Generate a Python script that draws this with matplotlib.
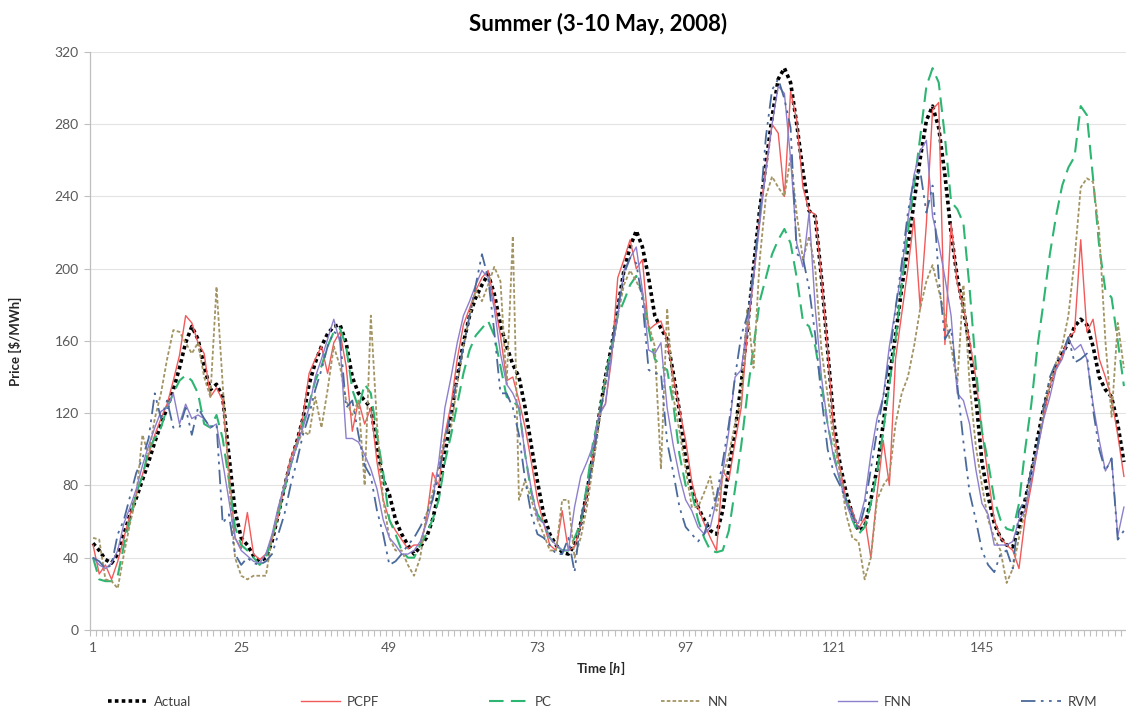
import numpy as np
import matplotlib
matplotlib.use("Agg")
import matplotlib.pyplot as plt

plt.rcParams['font.family'] = ['Lato', 'DejaVu Sans']
plt.rcParams['mathtext.fontset'] = 'custom'
plt.rcParams['mathtext.it'] = 'Lato:italic:bold'
plt.rcParams['mathtext.rm'] = 'Lato:bold'

# ----------------------------
# Hourly prices, 3-10 May 2008 ($/MWh)
# ----------------------------

hours = np.arange(1, 169)

actual = [48, 44, 39, 37, 42, 53, 64, 73, 83, 93,
          104, 114, 123, 133, 145, 159, 168, 161, 146, 133,
          136, 129, 97, 66, 51, 47, 41, 38, 40, 49,
          64, 79, 93, 104, 117, 136, 148, 157, 164, 168,
          169, 159, 140, 131, 127, 123, 102, 83, 75, 61,
          53, 47, 42, 46, 51, 61, 76, 97, 119, 140,
          159, 174, 184, 191, 197, 186, 169, 157, 147, 140,
          123, 102, 82, 64, 53, 47, 43, 42, 47, 59,
          76, 97, 119, 140, 157, 178, 199, 212, 221, 212,
          195, 174, 167, 161, 142, 121, 95, 78, 68, 61,
          55, 53, 66, 89, 110, 136, 167, 201, 233, 258,
          284, 305, 311, 303, 280, 254, 232, 229, 195, 155,
          115, 92, 76, 64, 55, 57, 72, 89, 114, 140,
          163, 189, 212, 237, 261, 282, 290, 278, 252, 220,
          195, 178, 157, 129, 93, 74, 59, 51, 47, 46,
          57, 72, 87, 106, 123, 136, 146, 153, 159, 168,
          172, 169, 157, 140, 133, 129, 114, 93]

pcpf = [47, 31, 36, 28, 38, 51, 64, 75, 86, 97,
        108, 117, 125, 138, 152, 174, 170, 159, 153, 129,
        134, 127, 89, 51, 45, 65, 42, 39, 42, 50,
        63, 80, 95, 104, 118, 142, 150, 157, 142, 159,
        165, 146, 110, 127, 114, 123, 93, 72, 61, 55,
        50, 45, 47, 47, 61, 87, 80, 108, 125, 150,
        169, 178, 188, 195, 199, 182, 163, 138, 140, 127,
        112, 93, 72, 59, 47, 44, 66, 44, 46, 58,
        75, 97, 120, 125, 150, 195, 205, 216, 200, 205,
        166, 169, 171, 160, 140, 122, 105, 82, 68, 59,
        51, 44, 88, 83, 104, 123, 165, 195, 229, 256,
        280, 275, 240, 298, 282, 245, 232, 230, 195, 155,
        110, 90, 72, 66, 56, 62, 40, 75, 105, 80,
        150, 175, 200, 228, 178, 225, 288, 292, 158, 225,
        192, 178, 160, 140, 110, 85, 61, 51, 47, 44,
        34, 62, 80, 100, 118, 135, 145, 152, 162, 165,
        216, 165, 172, 150, 140, 128, 108, 85]

pc = [40, 28, 27, 27, 30, 47, 61, 76, 85, 100,
      106, 112, 123, 131, 138, 141, 138, 131, 114, 112,
      119, 106, 83, 57, 47, 44, 40, 36, 40, 51,
      64, 78, 91, 102, 114, 125, 138, 146, 157, 165,
      167, 157, 133, 123, 136, 131, 108, 87, 61, 53,
      44, 40, 40, 47, 53, 61, 72, 93, 108, 125,
      142, 155, 163, 167, 171, 163, 146, 129, 127, 123,
      97, 76, 64, 59, 51, 47, 44, 44, 51, 59,
      80, 104, 119, 140, 157, 174, 182, 191, 196, 186,
      167, 150, 146, 144, 125, 97, 80, 76, 61, 51,
      44, 43, 44, 55, 78, 102, 131, 157, 182, 195,
      208, 216, 222, 214, 195, 171, 168, 157, 136, 114,
      97, 83, 72, 61, 53, 57, 70, 87, 110, 136,
      161, 191, 220, 246, 273, 301, 311, 303, 273, 237,
      233, 225, 189, 146, 110, 93, 72, 61, 56, 55,
      70, 100, 125, 157, 182, 208, 229, 246, 256, 262,
      290, 285, 250, 212, 188, 184, 160, 135]

nn = [51, 50, 28, 27, 23, 42, 59, 74, 108, 97,
      117, 131, 150, 166, 165, 159, 153, 159, 140, 129,
      190, 136, 83, 40, 30, 28, 30, 30, 30, 51,
      66, 80, 93, 102, 110, 108, 129, 112, 133, 157,
      146, 127, 119, 127, 80, 174, 114, 72, 51, 44,
      44, 36, 30, 40, 64, 76, 91, 108, 112, 136,
      157, 174, 188, 182, 191, 201, 193, 136, 218, 72,
      83, 72, 61, 53, 44, 44, 72, 72, 40, 51,
      68, 91, 114, 140, 153, 174, 191, 199, 193, 186,
      169, 157, 89, 178, 129, 110, 89, 68, 68, 76,
      85, 66, 85, 97, 114, 128, 178, 145, 205, 240,
      251, 245, 240, 262, 230, 205, 218, 200, 155, 130,
      104, 87, 64, 51, 49, 28, 40, 72, 80, 85,
      114, 131, 140, 157, 178, 193, 202, 188, 174, 157,
      136, 191, 136, 102, 80, 61, 51, 44, 26, 34,
      51, 66, 89, 100, 123, 136, 148, 157, 174, 205,
      245, 250, 248, 220, 160, 118, 170, 145]

fnn = [40, 36, 34, 37, 44, 59, 68, 78, 91, 102,
       112, 121, 123, 131, 114, 125, 117, 119, 117, 112,
       114, 93, 72, 51, 44, 41, 38, 37, 42, 53,
       68, 80, 91, 102, 112, 123, 140, 150, 161, 172,
       159, 106, 106, 104, 97, 89, 78, 61, 51, 47,
       42, 42, 44, 49, 59, 72, 93, 123, 140, 159,
       174, 182, 191, 199, 195, 178, 153, 136, 131, 123,
       97, 78, 62, 59, 51, 47, 44, 44, 68, 85,
       93, 102, 119, 125, 153, 174, 199, 206, 212, 188,
       155, 153, 159, 123, 102, 85, 72, 66, 57, 53,
       57, 72, 87, 110, 140, 144, 169, 195, 225, 254,
       280, 301, 297, 261, 214, 201, 231, 178, 140, 114,
       95, 83, 70, 61, 59, 72, 97, 117, 129, 157,
       178, 199, 227, 252, 265, 271, 229, 214, 195, 174,
       131, 127, 114, 89, 70, 64, 47, 47, 47, 49,
       61, 66, 83, 100, 117, 129, 144, 150, 161, 155,
       158, 150, 125, 105, 88, 95, 52, 68]

rvm = [40, 38, 34, 36, 53, 61, 74, 87, 95, 106,
       131, 117, 127, 112, 112, 123, 108, 123, 117, 112,
       114, 59, 64, 42, 36, 40, 37, 36, 38, 42,
       53, 64, 80, 93, 108, 119, 133, 144, 157, 165,
       163, 123, 127, 108, 91, 85, 66, 53, 36, 38,
       42, 47, 51, 57, 64, 72, 87, 104, 121, 140,
       157, 174, 191, 208, 195, 165, 131, 131, 123, 108,
       83, 64, 53, 51, 47, 42, 42, 51, 32, 61,
       76, 95, 117, 136, 157, 178, 197, 206, 203, 182,
       144, 142, 142, 104, 87, 68, 57, 53, 49, 53,
       64, 74, 93, 114, 140, 163, 174, 199, 231, 273,
       299, 305, 294, 278, 208, 206, 189, 163, 129, 100,
       87, 80, 72, 64, 55, 68, 89, 110, 129, 150,
       178, 203, 231, 250, 254, 231, 246, 195, 161, 167,
       136, 104, 76, 61, 44, 36, 32, 42, 44, 34,
       66, 72, 89, 102, 123, 140, 148, 153, 162, 148,
       150, 153, 122, 100, 88, 95, 50, 55]

xtick_labels = [1, 25, 49, 73, 97, 121, 145]

# ----------------------------
# Plot
# ----------------------------

fig = plt.figure(figsize=(11.26, 7.11), dpi=100)
ax = fig.add_axes([0.0799, 0.114, 0.921, 0.813])

ax.plot(hours, actual, color='black', lw=2.6, ls=(0, (1, 0.9)), label='Actual', zorder=3)
ax.plot(hours, pcpf, color='#f25a5a', lw=1.0, label='PCPF', zorder=4)
ax.plot(hours, pc, color='#2db671', lw=1.5, ls=(0, (7, 3.5)), label='PC', zorder=4)
ax.plot(hours, nn, color='#a39463', lw=1.3, ls=(0, (2, 1.2)), label='NN', zorder=4)
ax.plot(hours, fnn, color='#8d7fcc', lw=1.0, label='FNN', zorder=4)
ax.plot(hours, rvm, color='#4a6a9c', lw=1.3, ls=(0, (8, 3, 1.5, 3, 1.5, 3)), label='RVM', zorder=4)

ax.set_xlim(0.5, 168.5)
ax.set_ylim(0, 320)
ax.set_yticks(np.arange(0, 321, 40))
ax.set_xticks(xtick_labels)
ax.set_xticks(np.arange(0.5, 169, 1), minor=True)
ax.tick_params(axis='x', which='major', length=0, pad=9, labelsize=10, labelcolor='#595959')
ax.tick_params(axis='x', which='minor', length=4, color='#bfbfbf', width=0.8)
ax.tick_params(axis='y', length=4, color='#bfbfbf', width=0.8, pad=4, labelsize=10, labelcolor='#595959')

ax.grid(axis='y', color='#e3e3e3', lw=0.8)
ax.set_axisbelow(True)
for s in ['top', 'right']:
    ax.spines[s].set_visible(False)
for s in ['left', 'bottom']:
    ax.spines[s].set_color('#bfbfbf')
    ax.spines[s].set_linewidth(0.9)

fig.text(0.531, 0.966, 'Summer (3-10 May, 2008)', ha='center', va='center',
         fontsize=16, fontweight='bold')
fig.text(0.014, 0.52, r'Price [\$/MWh]', rotation=90, ha='center', va='center',
         fontsize=9.5, fontweight='bold', color='#262626')
fig.text(0.533, 0.06, r'Time [$\it{h}$]', ha='center', va='center',
         fontsize=9.5, fontweight='bold', color='#262626')

leg = fig.legend(loc='center', bbox_to_anchor=(0.085, 0.013, 0.9, 0.0), mode='expand',
                 ncol=6, frameon=False, fontsize=9.5, handlelength=3.0, handletextpad=0.5)
for t in leg.get_texts():
    t.set_color('#404040')

plt.savefig("out.png", dpi=100)
plt.close()
